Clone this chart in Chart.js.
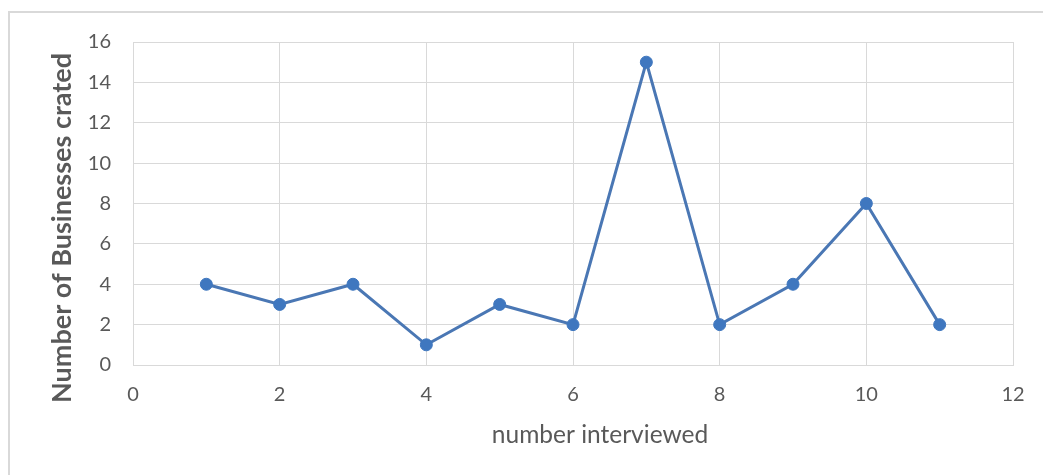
<!DOCTYPE html>
<html>
<head>
<meta charset="utf-8">
<script src="https://cdn.jsdelivr.net/npm/chart.js@4.4.1/dist/chart.umd.min.js"></script>
<style>
  html, body { margin: 0; padding: 0; background: #fff; }
  #wrap { position: relative; width: 1043px; height: 475px; overflow: hidden; }
  #frame { position: absolute; left: 8px; top: 11px; width: 1100px; height: 500px;
           border-left: 2px solid #d9d9d9; border-top: 2px solid #d9d9d9; box-sizing: border-box; }
  canvas { position: absolute; left: 0; top: 0; }
</style>
</head>
<body>
<div id="wrap">
  <div id="frame"></div>
  <canvas id="c" width="1043" height="475"></canvas>
</div>
<script>
// Interviewee index and businesses created
const interviewed = [1, 2, 3, 4, 5, 6, 7, 8, 9, 10, 11];
const businesses = [4, 3, 4, 1, 3, 2, 15, 2, 4, 8, 2];
const xTicks = [0, 2, 4, 6, 8, 10, 12];
const yTicks = [0, 2, 4, 6, 8, 10, 12, 14, 16];
const xTitle = 'number interviewed';
const yTitle = 'Number of Businesses crated';

const textColor = '#595959';
const gridColor = '#d9d9d9';
const fontFamily = 'Lato, "Open Sans", sans-serif';

// Axis titles, placed relative to the canvas rather than the plot area
const axisTitles = {
  id: 'axisTitles',
  afterDraw(chart) {
    const ctx = chart.ctx;
    ctx.save();
    ctx.fillStyle = textColor;
    ctx.textAlign = 'center';
    ctx.textBaseline = 'middle';
    ctx.font = '24.5px ' + fontFamily;
    ctx.fillText(xTitle, 600, 435);
    ctx.translate(62, 228);
    ctx.rotate(-Math.PI / 2);
    ctx.font = 'bold 27px ' + fontFamily;
    ctx.fillText(yTitle, 0, 0);
    ctx.restore();
  }
};

const plotFrame = {
  id: 'plotFrame',
  afterDraw(chart) {
    const { ctx, chartArea: a } = chart;
    ctx.save();
    ctx.strokeStyle = gridColor;
    ctx.lineWidth = 1;
    ctx.strokeRect(a.left + 0.5, a.top + 0.5, a.right - a.left, a.bottom - a.top);
    ctx.restore();
  }
};

new Chart(document.getElementById('c'), {
  type: 'line',
  data: {
    datasets: [{
      data: interviewed.map((x, i) => ({ x: x, y: businesses[i] })),
      borderColor: '#4a77b4',
      backgroundColor: '#3f77bf',
      pointBackgroundColor: '#3f77bf',
      pointBorderColor: '#3f77bf',
      borderWidth: 3,
      pointRadius: 6,
      pointBorderWidth: 1,
      tension: 0,
      fill: false
    }]
  },
  options: {
    responsive: false,
    animation: false,
    layout: { padding: { left: 0, top: 42, right: 30, bottom: 0 } },
    plugins: { legend: { display: false }, tooltip: { enabled: false } },
    scales: {
      x: {
        type: 'linear',
        min: 0, max: 12,
        afterBuildTicks: s => { s.ticks = xTicks.map(v => ({ value: v })); },
        afterFit: s => { s.height = 110; },
        grid: { color: gridColor, lineWidth: 1, drawTicks: false },
        border: { color: gridColor, width: 1 },
        ticks: { color: textColor, font: { family: fontFamily, size: 20 }, padding: 18, maxRotation: 0 }
      },
      y: {
        min: 0, max: 16,
        afterBuildTicks: s => { s.ticks = yTicks.map(v => ({ value: v })); },
        afterFit: s => { s.width = 133; },
        grid: { color: gridColor, lineWidth: 1, drawTicks: false },
        border: { color: gridColor, width: 1 },
        ticks: { color: textColor, font: { family: fontFamily, size: 20 }, padding: 22 }
      }
    }
  },
  plugins: [plotFrame, axisTitles]
});
</script>
</body>
</html>
